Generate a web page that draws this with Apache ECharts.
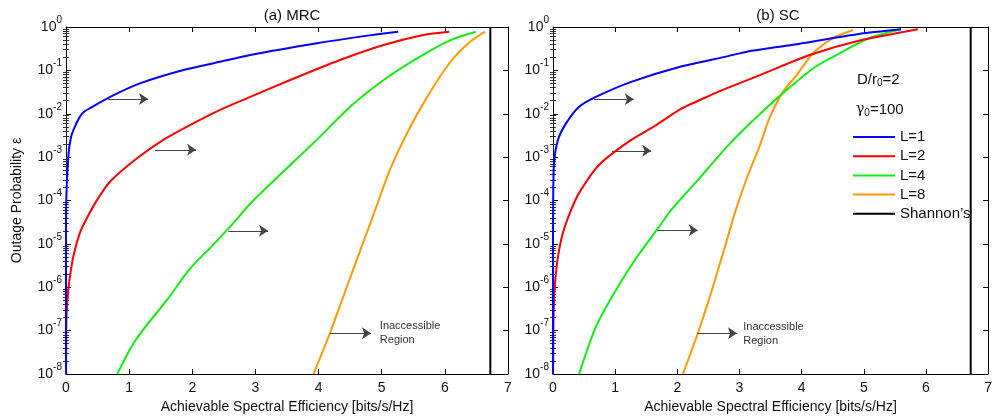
<!DOCTYPE html>
<html>
<head>
<meta charset="utf-8">
<script src="https://cdn.jsdelivr.net/npm/echarts@6/dist/echarts.min.js"></script>
<style>
html, body { margin: 0; padding: 0; background: #fff; }
#chart { width: 995px; height: 419px; }
</style>
</head>
<body>
<div id="chart"></div>
<script>
// tick labels
const xTicks = [0, 1, 2, 3, 4, 5, 6, 7];
const yExps = [-8, -7, -6, -5, -4, -3, -2, -1, 0];
const minorMults = [2, 3, 4, 5, 6, 7, 8, 9];
const seriesNames = ['L=1', 'L=2', 'L=4', 'L=8'];
const shannonName = 'Shannon\u2019s';
const shannonRate = 6.72;

// (a) MRC  [rate, outage]
const mrcL1 = [[0.00001, 1e-8], [0.0004, 1e-5], [0.004, 1e-4], [0.036, 1e-3], [0.08, 2.95e-3], [0.14, 5.0e-3],
  [0.22, 8.5e-3], [0.29, 1.12e-2], [0.38, 1.35e-2], [0.70, 2.45e-2], [1.17, 5.0e-2], [1.86, 0.102],
  [2.44, 0.158], [2.92, 0.226], [3.97, 0.42], [4.66, 0.60], [5.26, 0.78]];
const mrcL2 = [[0.001, 1e-8], [0.004, 1e-7], [0.01, 2.5e-7], [0.036, 8.7e-7], [0.063, 1.8e-6], [0.116, 5.1e-6],
  [0.22, 1.8e-5], [0.33, 3.9e-5], [0.49, 1.02e-4], [0.70, 2.75e-4], [1.12, 9.3e-4], [1.54, 2.5e-3],
  [1.91, 5.0e-3], [2.44, 1.23e-2], [2.92, 2.45e-2], [3.55, 6.0e-2], [4.34, 0.174], [5.03, 0.385],
  [5.66, 0.655], [6.07, 0.78]];
const mrcL4 = [[0.81, 1e-8], [1.07, 5.1e-8], [1.28, 1.35e-7], [1.60, 5.1e-7], [1.97, 2.75e-6], [2.33, 9.5e-6],
  [2.65, 3.0e-5], [2.92, 8.5e-5], [3.44, 4.6e-4], [3.97, 2.5e-3], [4.50, 1.45e-2], [5.03, 6.0e-2],
  [5.56, 0.19], [6.09, 0.50], [6.49, 0.78]];
const mrcL8 = [[3.92, 1e-8], [4.18, 8.7e-8], [4.34, 3.8e-7], [4.50, 1.65e-6], [4.66, 7.1e-6], [4.82, 3.0e-5],
  [4.95, 1.0e-4], [5.13, 5.1e-4], [5.40, 3.55e-3], [5.72, 2.45e-2], [6.09, 0.158], [6.40, 0.457],
  [6.64, 0.78]];

// (b) SC  [rate, outage]
const scL1 = [[0.00001, 1e-8], [0.0003, 1e-5], [0.003, 1e-4], [0.016, 7.2e-4], [0.08, 2.5e-3], [0.21, 6.0e-3],
  [0.42, 1.45e-2], [0.69, 2.45e-2], [1.27, 5.5e-2], [2.06, 0.123], [2.80, 0.21], [3.12, 0.27],
  [3.86, 0.39], [4.92, 0.69], [5.60, 0.885]];
const scL2 = [[0.002, 1e-8], [0.006, 1e-7], [0.016, 5.1e-7], [0.037, 1.48e-6], [0.08, 5.1e-6], [0.16, 1.8e-5],
  [0.29, 6.0e-5], [0.42, 1.5e-4], [0.74, 6.6e-4], [1.24, 2.4e-3], [1.64, 5.25e-3], [2.06, 1.3e-2],
  [2.59, 2.9e-2], [2.80, 3.9e-2], [3.33, 7.8e-2], [4.13, 0.226], [4.92, 0.48], [5.87, 0.885]];
const scL4 = [[0.42, 1e-8], [0.69, 1.23e-7], [0.98, 7.2e-7], [1.32, 4.3e-6], [1.69, 2.3e-5], [1.90, 6.0e-5],
  [2.33, 2.95e-4], [2.80, 1.74e-3], [3.28, 8.5e-3], [3.76, 3.55e-2], [4.23, 0.123], [4.66, 0.27],
  [5.08, 0.55], [5.60, 0.885]];
const scL8 = [[2.09, 1e-8], [2.33, 8.7e-8], [2.54, 7.2e-7], [2.75, 7.2e-6], [2.94, 6.0e-5], [3.12, 3.3e-4],
  [3.33, 1.9e-3], [3.49, 8.5e-3], [3.70, 3.2e-2], [3.92, 7.8e-2], [4.18, 0.245], [4.50, 0.55],
  [4.83, 0.85]];

// arrows: [from x, to x, outage]
const mrcArrows = [[0.67, 1.30, 0.022], [1.41, 2.06, 1.47e-3], [2.57, 3.20, 2.0e-5], [4.18, 4.83, 8.7e-8]];
const scArrows = [[0.66, 1.30, 0.0215], [0.95, 1.58, 1.4e-3], [1.68, 2.33, 2.05e-5], [2.32, 2.96, 8.7e-8]];
const regionLabelAt = [[4.97, 8.7e-8], [3.06, 8.2e-8]];

const colors = ['#0000ff', '#ff0000', '#11ee11', '#ff9900'];
const FONT = 'Liberation Sans, Arial, Helvetica, sans-serif';

// log minor tick positions (axis decoration)
const minorValues = [];
yExps.slice(0, -1).forEach(function (e) {
    minorMults.forEach(function (m) { minorValues.push(m * Math.pow(10, e)); });
});

var myChart = echarts.init(document.getElementById('chart'), null, { renderer: 'canvas' });

function xAxisOf(grid, pos) {
    return {
        type: 'value', gridIndex: grid, position: pos,
        min: xTicks[0], max: xTicks[xTicks.length - 1], interval: 1,
        name: pos === 'bottom' ? 'Achievable Spectral Efficiency [bits/s/Hz]' : '',
        nameLocation: 'middle', nameGap: 25,
        nameTextStyle: { fontFamily: FONT, fontSize: 14, color: '#111' },
        axisLine: { show: true, onZero: false, lineStyle: { color: '#000', width: 1 } },
        axisTick: { show: true, inside: true, length: 5, lineStyle: { color: '#000' } },
        axisLabel: { show: pos === 'bottom', fontFamily: FONT, fontSize: 14, color: '#111', margin: 7 },
        splitLine: { show: false }
    };
}

function yAxisOf(grid, pos, withName) {
    return {
        type: 'log', logBase: 10, gridIndex: grid, position: pos,
        min: Math.pow(10, yExps[0]), max: Math.pow(10, yExps[yExps.length - 1]), interval: 1,
        name: withName ? 'Outage Probability \u03b5' : '',
        nameLocation: 'middle', nameGap: 42, nameRotate: 90,
        nameTextStyle: { fontFamily: FONT, fontSize: 14, color: '#111' },
        axisLine: { show: true, onZero: false, lineStyle: { color: '#000', width: 1 } },
        axisTick: { show: true, inside: true, length: 5, lineStyle: { color: '#000' } },
        axisLabel: {
            show: pos === 'left', margin: 4,
            formatter: function (v) {
                const e = Math.round(Math.log10(v));
                return '{b|10}{s|' + e + '}';
            },
            rich: {
                b: { fontFamily: FONT, fontSize: 14, color: '#111', lineHeight: 24 },
                s: { fontFamily: FONT, fontSize: 10, color: '#111', lineHeight: 8, verticalAlign: 'top' }
            }
        },
        splitLine: { show: false }
    };
}

function yMinorAxisOf(grid, pos) {
    return {
        type: 'log', logBase: 10, gridIndex: grid, position: pos,
        min: Math.pow(10, yExps[0]), max: Math.pow(10, yExps[yExps.length - 1]),
        axisLine: { show: false },
        axisTick: { show: true, inside: true, length: 3, customValues: minorValues, lineStyle: { color: '#333' } },
        axisLabel: { show: false },
        splitLine: { show: false }
    };
}

function arrowLines(list) {
    return {
        silent: true,
        symbol: ['none', 'arrow'],
        symbolSize: 9,
        label: { show: false },
        lineStyle: { color: '#444', width: 1, type: 'solid' },
        itemStyle: { color: '#000' },
        emphasis: { disabled: true },
        data: list.map(a => [{ coord: [a[0], a[2]], itemStyle: { color: '#000' } }, { coord: [a[1], a[2]] }])
    };
}

function regionText(at) {
    return {
        silent: true,
        symbol: 'circle', symbolSize: 0,
        label: {
            show: true, position: 'right', distance: 0,
            formatter: 'Inaccessible\nRegion',
            fontFamily: FONT, fontSize: 11, lineHeight: 14, color: '#333', align: 'left'
        },
        data: [{ coord: at }]
    };
}

const series = [];
[[mrcL1, mrcL2, mrcL4, mrcL8], [scL1, scL2, scL4, scL8]].forEach(function (group, g) {
    group.forEach(function (d, i) {
        series.push({
            name: seriesNames[i], type: 'line', data: d,
            xAxisIndex: g * 2, yAxisIndex: g * 2,
            symbol: 'none', smooth: 0.25,
            lineStyle: { color: colors[i], width: 2 },
            itemStyle: { color: colors[i] },
            z: 3 + (3 - i)
        });
    });
    series.push({
        name: shannonName, type: 'line',
        data: [[shannonRate, Math.pow(10, yExps[0])], [shannonRate, Math.pow(10, yExps[yExps.length - 1])]],
        xAxisIndex: g * 2, yAxisIndex: g * 2, symbol: 'none',
        lineStyle: { color: '#000', width: 2 }, itemStyle: { color: '#000' },
        markLine: arrowLines(g === 0 ? mrcArrows : scArrows),
        markPoint: regionText(regionLabelAt[g])
    });
});

var option = {
    animation: false,
    backgroundColor: '#fff',
    title: [
        { text: '(a) MRC', left: 287, top: 3, textAlign: 'center',
          textStyle: { fontFamily: FONT, fontSize: 15, fontWeight: 'normal', color: '#111' } },
        { text: '(b) SC', left: 773, top: 3, textAlign: 'center',
          textStyle: { fontFamily: FONT, fontSize: 15, fontWeight: 'normal', color: '#111' } }
    ],
    grid: [
        { left: 66, top: 27, width: 442, height: 347 },
        { left: 553, top: 27, width: 441, height: 347 }
    ],
    xAxis: [xAxisOf(0, 'bottom'), xAxisOf(0, 'top'), xAxisOf(1, 'bottom'), xAxisOf(1, 'top')],
    yAxis: [yAxisOf(0, 'left', true), yAxisOf(0, 'right', false), yAxisOf(1, 'left', false), yAxisOf(1, 'right', false),
            yMinorAxisOf(0, 'left'), yMinorAxisOf(0, 'right'), yMinorAxisOf(1, 'left'), yMinorAxisOf(1, 'right')],
    legend: {
        orient: 'vertical', left: 848, top: 124,
        data: seriesNames.concat([shannonName]),
        icon: 'rect', itemWidth: 42, itemHeight: 2, itemGap: 3.2,
        textStyle: { fontFamily: FONT, fontSize: 15, color: '#111', lineHeight: 16 }
    },
    graphic: [
        { type: 'text', left: 857, top: 72,
          style: { text: '{a|D/r}{u|0}{a|=2}', rich: {
              a: { fontFamily: FONT, fontSize: 15, fill: '#111', lineHeight: 18 },
              u: { fontFamily: FONT, fontSize: 10, fill: '#111', lineHeight: 10, verticalAlign: 'bottom' } } } },
        { type: 'text', left: 856, top: 102,
          style: { text: '{g|\u03b3}{u|0}{a|=100}', rich: {
              g: { fontFamily: 'DejaVu Serif, Liberation Serif, serif', fontSize: 14, fill: '#111', lineHeight: 18 },
              a: { fontFamily: FONT, fontSize: 15, fill: '#111', lineHeight: 18 },
              u: { fontFamily: FONT, fontSize: 10, fill: '#111', lineHeight: 10, verticalAlign: 'bottom' } } } }
    ],
    series: series
};

myChart.setOption(option);
</script>
</body>
</html>
